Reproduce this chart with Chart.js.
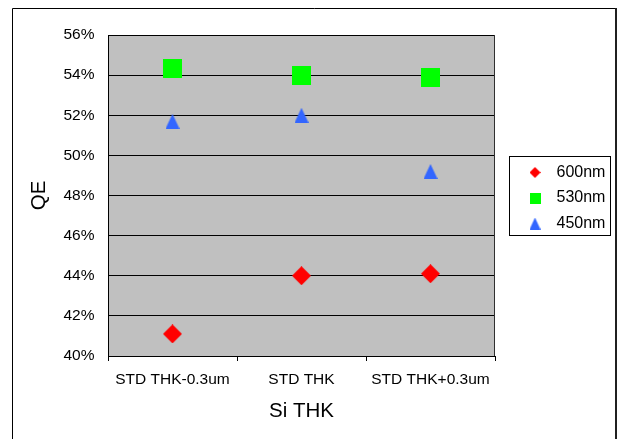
<!DOCTYPE html>
<html><head><meta charset="utf-8">
<script src="https://cdn.jsdelivr.net/npm/chart.js@4.4.1/dist/chart.umd.min.js"></script>
<style>html,body{margin:0;padding:0;background:#fff}canvas{display:block}</style>
</head><body>
<canvas id="c" width="618" height="439"></canvas>
<script>
const categories = ['STD THK-0.3um', 'STD THK', 'STD THK+0.3um'];
const seriesNames = ['600nm', '530nm', '450nm'];
const qe600 = [41.1, 44.0, 44.1];
const qe530 = [54.35, 54.0, 53.9];
const qe450 = [51.7, 52.0, 49.2];
const yTickValues = [40, 42, 44, 46, 48, 50, 52, 54, 56];
const colors = ['#FF0000', '#00FF00', '#3366FF'];

const FONT = "'Liberation Sans', Arial, sans-serif";

function makeIcon(shape, w, h, color) {
  const c = document.createElement('canvas');
  c.width = w; c.height = h;
  const g = c.getContext('2d');
  g.fillStyle = color;
  g.beginPath();
  if (shape === 'diamond') {
    g.moveTo(w / 2, 0); g.lineTo(w, h / 2); g.lineTo(w / 2, h); g.lineTo(0, h / 2);
  } else if (shape === 'square') {
    g.rect(0, 0, w, h);
  } else {
    g.moveTo(w / 2, 0); g.lineTo(w, h); g.lineTo(0, h);
  }
  g.closePath();
  g.fill();
  return c;
}
const chartIcons = [
  makeIcon('diamond', 19, 19, colors[0]),
  makeIcon('square', 19, 19, colors[1]),
  makeIcon('triangle', 14, 15, colors[2])
];
const legendIcons = [
  makeIcon('diamond', 11, 11, colors[0]),
  makeIcon('square', 11, 11, colors[1]),
  makeIcon('triangle', 11, 12, colors[2])
];

const framePlugin = {
  id: 'frame',
  beforeLayout(chart) {
    const lg = chart.legend;
    if (lg && !lg.__fixed) {
      const orig = lg.fit;
      lg.fit = function () { orig.call(this); this.width = 123; };
      lg.__fixed = true;
    }
  },
  afterLayout(chart) {
    const lg = chart.legend;
    if (lg) { lg.left += 17; lg.right += 17; lg.top += 2.5; lg.bottom += 2.5; }
  },
  beforeDraw(chart) {
    const { ctx, chartArea: a } = chart;
    ctx.save();
    ctx.fillStyle = '#C0C0C0';
    ctx.fillRect(a.left, a.top, a.right - a.left, a.bottom - a.top);
    ctx.restore();
  },
  beforeDatasetsDraw(chart) {
    const { ctx, chartArea: a } = chart;
    ctx.save();
    ctx.strokeStyle = '#303030';
    ctx.lineWidth = 1;
    ctx.beginPath();
    ctx.moveTo(Math.round(a.right) - 0.5, a.top);
    ctx.lineTo(Math.round(a.right) - 0.5, a.bottom);
    ctx.stroke();
    ctx.restore();
  },
  afterDraw(chart) {
    const { ctx } = chart;
    ctx.save();
    ctx.strokeStyle = '#000';
    ctx.lineWidth = 1;
    ctx.beginPath();
    ctx.moveTo(12.5, 440); ctx.lineTo(12.5, 8.5); ctx.lineTo(616, 8.5);
    ctx.stroke();
    ctx.fillStyle = '#202020';
    ctx.fillRect(615, 8, 2, 431);
    ctx.strokeRect(509.5, 156.5, 101, 79);
    ctx.restore();
  }
};

const datasets = [qe600, qe530, qe450].map((vals, i) => ({
  label: seriesNames[i],
  data: vals,
  showLine: false,
  pointStyle: chartIcons[i],
  pointRadius: 9,
  pointHoverRadius: 9,
  backgroundColor: colors[i],
  borderColor: colors[i],
  clip: false
}));

new Chart(document.getElementById('c'), {
  type: 'line',
  data: { labels: categories, datasets },
  plugins: [framePlugin],
  options: {
    responsive: false,
    animation: false,
    devicePixelRatio: 1,
    layout: { padding: { top: 35, left: 0, right: 0, bottom: 0 } },
    plugins: {
      tooltip: { enabled: false },
      legend: {
        position: 'right',
        fullSize: false,
        align: 'center',
        labels: {
          usePointStyle: true,
          pointStyleWidth: 27,
          padding: 9.5,
          color: '#000',
          font: { family: FONT, size: 16 },
          generateLabels(chart) {
            const items = Chart.defaults.plugins.legend.labels.generateLabels(chart);
            items.forEach((it, i) => { it.pointStyle = legendIcons[i]; });
            return items;
          }
        }
      }
    },
    scales: {
      x: {
        offset: true,
        grid: { offset: true, drawOnChartArea: false, drawTicks: true, tickLength: 5, color: '#000' },
        border: { color: '#000', width: 1 },
        ticks: { color: '#000', padding: 9.4, maxRotation: 0, autoSkip: false, font: { family: FONT, size: 15.5 } },
        title: { display: true, text: 'Si THK', color: '#000', padding: { top: 0, bottom: 15 }, font: { family: FONT, size: 20.5 } },
        afterFit(s) { s.height = 83; }
      },
      y: {
        min: 40, max: 56,
        afterBuildTicks(s) { s.ticks = yTickValues.map(v => ({ value: v })); },
        grid: { color: '#000', drawTicks: false, lineWidth: 1 },
        border: { color: '#000', width: 1 },
        ticks: { color: '#000', padding: 13.5, font: { family: FONT, size: 15.5 }, callback: v => v + '%' },
        title: { display: true, text: 'QE', color: '#000', padding: { top: 27, bottom: 0 }, font: { family: FONT, size: 20.5 } },
        afterFit(s) { s.width = 108; }
      }
    }
  }
});
</script>
</body></html>
